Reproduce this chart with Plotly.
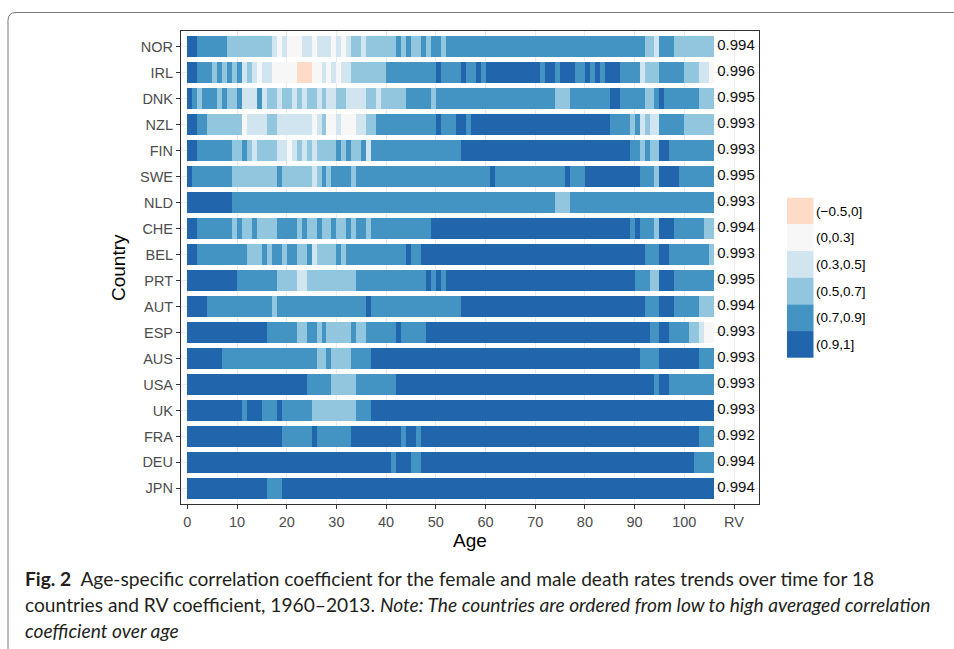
import plotly.graph_objects as go

# Countries from top to bottom (ordered by averaged correlation over age)
countries = ["NOR", "IRL", "DNK", "NZL", "FIN", "SWE", "NLD", "CHE", "BEL",
             "PRT", "AUT", "ESP", "AUS", "USA", "UK", "FRA", "DEU", "JPN"]

# RV coefficient per country
rv_values = [0.994, 0.996, 0.995, 0.993, 0.993, 0.995, 0.993, 0.994, 0.993,
             0.995, 0.994, 0.993, 0.993, 0.993, 0.993, 0.992, 0.994, 0.994]

# Correlation-coefficient bins
bin_labels = ["(\u22120.5,0]", "(0,0.3]", "(0.3,0.5]", "(0.5,0.7]", "(0.7,0.9]", "(0.9,1]"]
bin_colors = ["#FDDBC7", "#F7F7F7", "#D1E5F0", "#92C5DE", "#4393C3", "#2166AC"]

ages = list(range(0, 106))

# Bin index by age (0..105), run-length encoded as (bin, number of consecutive ages)
bins_rle = {
    "NOR": [(5, 2), (4, 6), (3, 9), (2, 1), (1, 1), (2, 1), (1, 3), (2, 2), (1, 1), (2, 3),
            (1, 1), (2, 1), (1, 1), (2, 1), (3, 2), (2, 1), (3, 6), (4, 1), (3, 1), (4, 1),
            (3, 2), (4, 1), (3, 1), (4, 2), (3, 1), (4, 40), (3, 2), (2, 1), (4, 3), (3, 8)],
    "IRL": [(5, 2), (4, 3), (3, 1), (4, 1), (3, 1), (4, 1), (3, 1), (4, 1), (2, 1), (3, 1),
            (2, 1), (1, 1), (2, 2), (1, 5), (0, 3), (1, 2), (2, 1), (1, 1), (2, 1), (1, 1),
            (2, 2), (3, 7), (4, 10), (5, 1), (4, 4), (5, 1), (4, 2), (5, 1), (4, 1), (5, 11),
            (4, 1), (5, 2), (4, 1), (5, 3), (4, 2), (5, 1), (4, 1), (5, 1), (4, 1), (5, 3),
            (4, 4), (2, 1), (3, 3), (4, 5), (3, 3), (2, 2), (1, 1)],
    "DNK": [(5, 1), (4, 1), (3, 1), (4, 3), (3, 1), (4, 1), (3, 2), (4, 1), (2, 3), (4, 1),
            (2, 1), (3, 2), (2, 1), (3, 2), (2, 1), (3, 1), (2, 1), (3, 2), (2, 1), (3, 1),
            (2, 2), (3, 2), (2, 4), (3, 2), (2, 1), (3, 5), (4, 5), (3, 1), (4, 24), (3, 3),
            (4, 8), (5, 2), (4, 5), (3, 2), (4, 1), (5, 1), (4, 7), (3, 3)],
    "NZL": [(5, 2), (4, 2), (3, 7), (1, 1), (2, 4), (3, 2), (2, 7), (1, 1), (2, 1), (3, 1),
            (1, 2), (2, 1), (1, 3), (2, 2), (3, 2), (4, 12), (5, 1), (4, 3), (5, 2), (4, 1),
            (5, 28), (4, 4), (3, 1), (4, 1), (2, 1), (3, 1), (2, 2), (4, 5), (3, 6)],
    "FIN": [(5, 2), (4, 7), (3, 2), (4, 1), (3, 1), (2, 1), (3, 4), (2, 2), (1, 1), (2, 1),
            (3, 1), (2, 1), (3, 1), (2, 1), (3, 4), (4, 1), (3, 1), (4, 1), (3, 2), (4, 1),
            (2, 1), (4, 18), (5, 34), (4, 2), (3, 1), (4, 1), (3, 2), (5, 2), (4, 9)],
    "SWE": [(5, 1), (4, 8), (3, 9), (4, 1), (3, 6), (2, 1), (3, 1), (4, 1), (3, 1), (4, 4),
            (3, 1), (4, 27), (5, 1), (4, 14), (5, 1), (4, 3), (5, 11), (4, 3), (3, 1), (5, 4),
            (4, 7)],
    "NLD": [(5, 9), (4, 65), (3, 3), (4, 29)],
    "CHE": [(5, 2), (4, 7), (3, 1), (4, 1), (3, 2), (4, 1), (3, 4), (4, 4), (3, 1), (4, 1),
            (3, 2), (4, 1), (3, 2), (4, 1), (3, 2), (4, 1), (3, 1), (4, 2), (3, 1), (4, 12),
            (5, 40), (4, 1), (5, 1), (4, 3), (3, 1), (5, 3), (4, 6), (3, 2)],
    "BEL": [(5, 2), (4, 10), (3, 3), (4, 1), (3, 1), (4, 2), (3, 1), (4, 2), (3, 2), (4, 1),
            (2, 1), (3, 4), (4, 1), (3, 1), (4, 12), (5, 1), (4, 2), (5, 45), (4, 3), (5, 2),
            (4, 8), (3, 1)],
    "PRT": [(5, 10), (4, 8), (3, 4), (2, 2), (3, 10), (4, 14), (5, 1), (4, 1), (5, 1), (4, 1),
            (5, 38), (4, 3), (3, 2), (5, 3), (4, 8)],
    "AUT": [(5, 4), (4, 13), (3, 1), (4, 18), (5, 1), (4, 18), (5, 37), (4, 3), (5, 3), (4, 5),
            (3, 3)],
    "ESP": [(5, 16), (4, 6), (3, 2), (4, 2), (3, 1), (4, 1), (3, 5), (4, 1), (3, 2), (4, 6),
            (5, 1), (4, 5), (5, 45), (4, 2), (5, 2), (4, 4), (3, 2), (2, 1), (1, 2)],
    "AUS": [(5, 7), (4, 19), (3, 2), (4, 1), (3, 4), (4, 4), (5, 54), (4, 4), (5, 8), (4, 3)],
    "USA": [(5, 24), (4, 5), (3, 5), (4, 8), (5, 52), (4, 1), (5, 2), (4, 9)],
    "UK":  [(5, 11), (4, 1), (5, 3), (4, 3), (5, 1), (4, 6), (3, 9), (4, 3), (5, 69)],
    "FRA": [(5, 19), (4, 6), (5, 1), (4, 7), (5, 10), (4, 1), (5, 2), (4, 1), (5, 56), (4, 3)],
    "DEU": [(5, 41), (4, 1), (5, 3), (4, 2), (5, 55), (4, 4)],
    "JPN": [(5, 16), (4, 3), (5, 87)],
}

# Expand to one bin per age
bins_by_age = {}
for c in countries:
    seq = []
    for b, n in bins_rle[c]:
        seq.extend([b] * n)
    assert len(seq) == len(ages), (c, len(seq))
    bins_by_age[c] = seq

# Figure geometry (pixels)
W, H = 954, 649
L, R, T, B = 181, 759, 31, 504
X0, X1 = -1.27, 115.03
Y0, Y1 = 0.4, 18.6


def px(xp):
    return (xp - L) / (R - L)


def py(yp):
    return (B - yp) / (B - T)


n = len(countries)
row_of = {c: n - i for i, c in enumerate(countries)}  # NOR at top

fig = go.Figure()

# One bar per run of equal bins, laid end to end along the age axis
for b, color in enumerate(bin_colors):
    ys, bases, lens = [], [], []
    for c in countries:
        seq = bins_by_age[c]
        start = 0
        for a in range(1, len(seq) + 1):
            if a == len(seq) or seq[a] != seq[start]:
                if seq[start] == b:
                    ys.append(row_of[c])
                    bases.append(ages[start])
                    lens.append(a - start)
                start = a
    if ys:
        fig.add_trace(go.Bar(
            y=ys, x=lens, base=bases, orientation="h", width=0.8,
            marker=dict(color=color, line=dict(width=0)),
            name=bin_labels[b], showlegend=False, hoverinfo="skip",
        ))

# RV coefficient column
fig.add_trace(go.Scatter(
    x=[110.4] * n, y=[row_of[c] for c in countries],
    text=[f"{v:.3f}" for v in rv_values], mode="text",
    textfont=dict(family="Liberation Sans, Arial", size=15, color="#111111"),
    textposition="middle center", showlegend=False, hoverinfo="skip", cliponaxis=False,
))

tick_font = dict(family="Liberation Sans, Arial", size=14.5, color="#4D4D4D")
fig.update_layout(
    width=W, height=H,
    margin=dict(l=L, r=W - R, t=T, b=H - B, pad=0),
    paper_bgcolor="white", plot_bgcolor="white",
    barmode="overlay", bargap=0,
    xaxis=dict(
        range=[X0, X1], tickmode="array",
        tickvals=list(range(0, 101, 10)) + [110],
        ticktext=[str(v) for v in range(0, 101, 10)] + ["RV"],
        ticks="outside", ticklen=4, tickwidth=1.1, tickcolor="#333333",
        showgrid=True, gridcolor="#EBEBEB", gridwidth=1, zeroline=False,
        showline=True, mirror=True, linecolor="#333333", linewidth=1.2,
        tickfont=tick_font,
    ),
    yaxis=dict(
        range=[Y0, Y1], tickmode="array",
        tickvals=[row_of[c] for c in countries], ticktext=countries,
        ticks="outside", ticklen=4, tickwidth=1.1, tickcolor="#333333",
        showgrid=True, gridcolor="#EBEBEB", gridwidth=1, zeroline=False,
        showline=True, mirror=True, linecolor="#333333", linewidth=1.2,
        tickfont=tick_font,
    ),
    font=dict(family="Liberation Sans, Arial"),
)

annotations = []
shapes = []

# Axis titles
annotations.append(dict(text="Age", x=px(470), y=py(540), xref="paper", yref="paper",
                        showarrow=False, xanchor="center", yanchor="middle",
                        font=dict(family="Liberation Sans, Arial", size=19, color="#000000")))
annotations.append(dict(text="Country", x=px(118), y=py(268), xref="paper", yref="paper",
                        showarrow=False, xanchor="center", yanchor="middle", textangle=-90,
                        font=dict(family="Liberation Sans, Arial", size=19, color="#000000")))

# Legend: colour keys with bin labels
key_x0, key_x1 = 787, 813.5
key_top, key_h = 197.7, 26.67
for i, (lab, col) in enumerate(zip(bin_labels, bin_colors)):
    y_top = key_top + i * key_h
    shapes.append(dict(type="rect", xref="paper", yref="paper",
                       x0=px(key_x0), x1=px(key_x1), y0=py(y_top + key_h), y1=py(y_top),
                       fillcolor=col, line=dict(width=0), layer="above"))
    annotations.append(dict(text=lab, x=px(814), y=py(y_top + key_h / 2),
                            xref="paper", yref="paper", showarrow=False,
                            xanchor="left", yanchor="middle",
                            font=dict(family="Liberation Sans, Arial", size=13.5, color="#000000")))

# Figure caption
cap_font = dict(family="Lato", size=19.2, color="#231F20")
cap_lines = [
    "<b>Fig. 2</b>  Age-specific correlation coefficient for the female and male death rates trends over time for 18",
    "countries and RV coefficient, 1960\u20132013. <i>Note: The countries are ordered from low to high averaged correlation</i>",
    "<i>coefficient over age</i>",
]
for i, line in enumerate(cap_lines):
    annotations.append(dict(text=line, x=px(23), y=py(578 + 26 * i), xref="paper", yref="paper",
                            showarrow=False, xanchor="left", yanchor="middle", align="left",
                            font=cap_font))

# Outer figure frame with rounded top-left corner
fx, fy, r = 8, 12.5, 8
frame_path = (f"M {px(fx)},{py(H)} L {px(fx)},{py(fy + r)} "
              f"Q {px(fx)},{py(fy)} {px(fx + r)},{py(fy)} L {px(W)},{py(fy)}")
shapes.append(dict(type="path", xref="paper", yref="paper", path=frame_path,
                   line=dict(color="#7A7A7A", width=1)))

fig.update_layout(annotations=annotations, shapes=shapes)

fig.write_html("out.html")
